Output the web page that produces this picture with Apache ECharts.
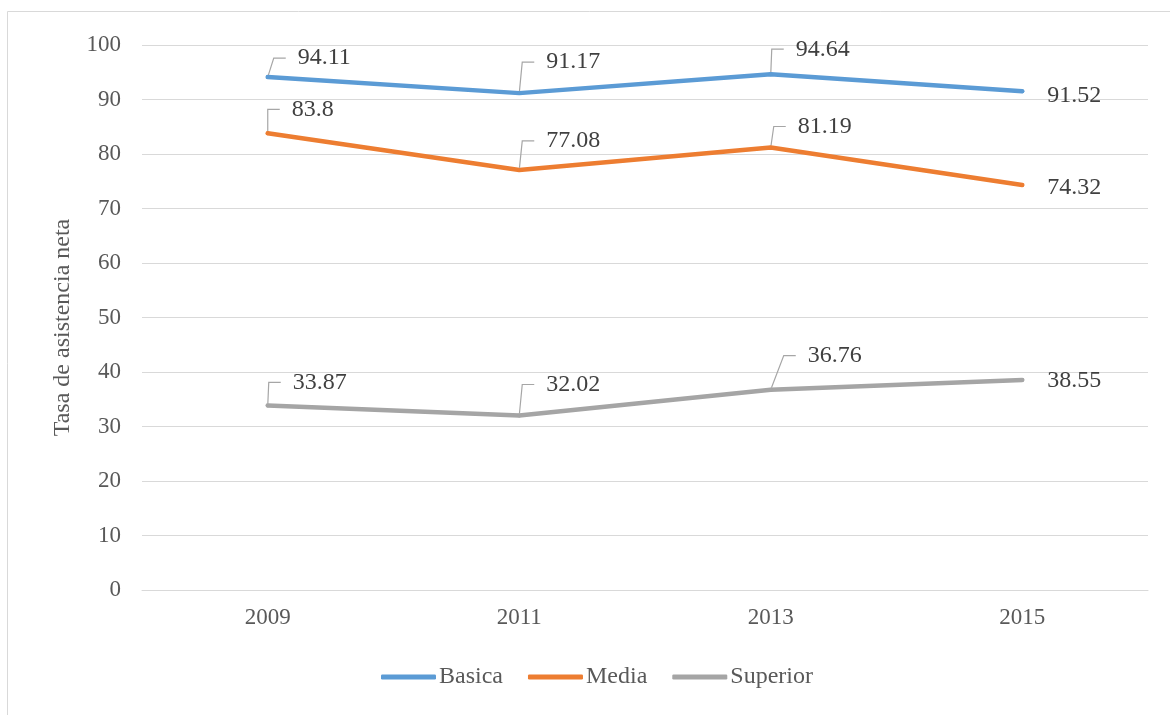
<!DOCTYPE html>
<html>
<head>
<meta charset="utf-8">
<script src="https://cdn.jsdelivr.net/npm/echarts@6/dist/echarts.min.js"></script>
<style>html,body{margin:0;padding:0;background:#fff;}#c{width:1170px;height:715px;}</style>
</head>
<body>
<div id="c"></div>
<script>
const years = ['2009', '2011', '2013', '2015'];
const seriesNames = ['Basica', 'Media', 'Superior'];
const basica = [94.11, 91.17, 94.64, 91.52];
const media = [83.8, 77.08, 81.19, 74.32];
const superior = [33.87, 32.02, 36.76, 38.55];
const yTicks = { min: 0, max: 100, interval: 10 };

// label placement (text-left offset from point, vertical offset), layout only
const labelOffsets = [
  [[30, -19], [27, -31], [25, -25], [25, 4]],
  [[24, -24], [27, -29], [27, -21], [25, 3]],
  [[25, -23], [27, -31], [37, -34], [25, 1]]
];
const colors = ['#5B9BD5', '#ED7D31', '#A5A5A5'];
const FONT = '"Liberation Serif", "Times New Roman", serif';

const chart = echarts.init(document.getElementById('c'), null, { renderer: 'canvas' });

function buildData(values) {
  return values.map((v, i) => ({
    value: v,
    labelLine: { show: i < values.length - 1 }
  }));
}

const allValues = [basica, media, superior];

chart.setOption({
  animation: false,
  backgroundColor: '#ffffff',
  color: colors,
  graphic: [{
    type: 'rect',
    z: -10,
    silent: true,
    shape: { x: 7.5, y: 11.5, width: 1400, height: 900 },
    style: { fill: 'none', stroke: '#D9D9D9', lineWidth: 1 }
  }],
  grid: { left: 142, right: 22, top: 45, bottom: 125, containLabel: false },
  legend: {
    top: 660,
    left: 376,
    data: seriesNames,
    icon: 'roundRect',
    itemWidth: 55,
    itemHeight: 5,
    itemGap: 25,
    textStyle: { fontFamily: FONT, fontSize: 24, color: '#595959', padding: [0, 0, 0, -2] }
  },
  xAxis: {
    type: 'category',
    data: years,
    boundaryGap: true,
    axisLine: { show: true, lineStyle: { color: '#D9D9D9', width: 1 } },
    axisTick: { show: false },
    axisLabel: { fontFamily: FONT, fontSize: 23, color: '#595959', margin: 16 },
    splitLine: { show: false }
  },
  yAxis: {
    type: 'value',
    min: yTicks.min,
    max: yTicks.max,
    interval: yTicks.interval,
    name: 'Tasa de asistencia neta',
    nameLocation: 'middle',
    nameGap: 67,
    nameTextStyle: { fontFamily: FONT, fontSize: 24, color: '#595959', padding: [0, 20, 0, 0] },
    axisLine: { show: false },
    axisTick: { show: false },
    axisLabel: { fontFamily: FONT, fontSize: 23, color: '#595959', margin: 21 },
    splitLine: { show: true, lineStyle: { color: '#D9D9D9', width: 1 } }
  },
  series: allValues.map((vals, si) => ({
    name: seriesNames[si],
    type: 'line',
    data: buildData(vals),
    symbol: 'circle',
    symbolSize: 4,
    showSymbol: true,
    itemStyle: { color: colors[si] },
    lineStyle: { width: 4.5, color: colors[si], cap: 'round', join: 'round' },
    label: {
      show: true,
      position: 'right',
      distance: 0,
      fontFamily: FONT,
      fontSize: 24,
      color: '#404040',
      formatter: function (p) { return '  ' + p.value; }
    },
    labelLine: {
      show: true,
      length2: 12,
      smooth: false,
      minTurnAngle: 0,
      lineStyle: { color: '#A6A6A6', width: 1.2 }
    },
    labelLayout: function (params) {
      const o = labelOffsets[params.seriesIndex][params.dataIndex];
      return { dx: o[0] - 14, dy: o[1], hideOverlap: false };
    },
    emphasis: { disabled: true }
  }))
});
</script>
</body>
</html>
